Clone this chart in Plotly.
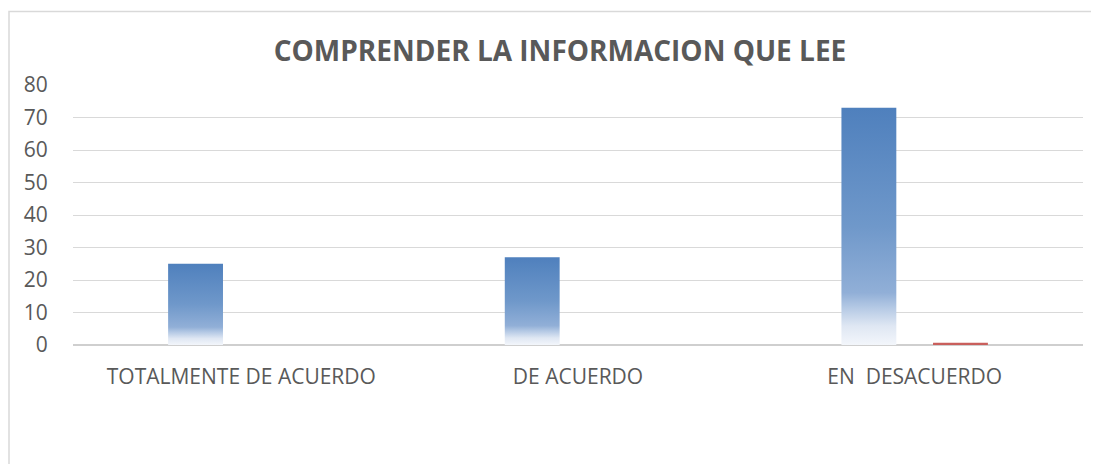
import plotly.graph_objects as go

# ---- data ----
categories = ["TOTALMENTE DE ACUERDO", "DE ACUERDO", "EN  DESACUERDO"]
serie_1 = [25, 27, 73]
serie_2 = [0, 0, 0.7]
y_ticks = [0, 10, 20, 30, 40, 50, 60, 70, 80]
title_text = "COMPRENDER LA INFORMACION QUE LEE"

# ---- style ----
BAR_W = 0.163
HALF_GAP = 0.0545
BLUE_SCALE = [
    [0.0, "#f3f6fb"],
    [0.08, "#dfe7f3"],
    [0.16, "#b3c8e4"],
    [0.22, "#91afd7"],
    [0.5, "#6f98ca"],
    [1.0, "#4f80bd"],
]
TEXT = "#595959"
GRID = "#d9d9d9"
OFF = 8  # page body margin of the browser

W, H = 1099 - OFF, 464 - OFF
L, R, T, B = 73 - OFF, 16, 85 - OFF, 119
PW, PH = W - L - R, H - T - B

fig = go.Figure()

for i, v in enumerate(serie_1):
    x0 = i - HALF_GAP - BAR_W
    x1 = i - HALF_GAP
    fig.add_trace(go.Scatter(
        x=[x0, x0, x1, x1, x0],
        y=[0, v, v, 0, 0],
        mode="lines",
        line=dict(width=0, color="rgba(0,0,0,0)"),
        fill="toself",
        fillgradient=dict(type="vertical", start=0, stop=v, colorscale=BLUE_SCALE),
        showlegend=False,
        hoverinfo="skip",
    ))

fig.add_trace(go.Bar(
    x=list(range(len(categories))),
    y=serie_2,
    width=BAR_W,
    offset=HALF_GAP,
    marker=dict(color="#c95f5c", line=dict(width=0)),
    showlegend=False,
))

fig.update_layout(
    width=W,
    height=H,
    margin=dict(l=L, r=R, t=T, b=B),
    paper_bgcolor="white",
    plot_bgcolor="white",
    font=dict(family="Open Sans", color=TEXT, size=21),
    title=dict(
        text="<b>" + title_text + "</b>",
        font=dict(family="Open Sans", size=28, color=TEXT),
        xref="container", x=(560 - OFF) / W, xanchor="center",
        yref="container", y=1 - (51.5 - OFF) / H, yanchor="middle",
    ),
    xaxis=dict(
        range=[-0.5, len(categories) - 0.5],
        tickmode="array",
        tickvals=list(range(len(categories))),
        ticktext=categories,
        showgrid=False,
        zeroline=False,
        showline=False,
        ticks="outside",
        ticklen=13,
        tickcolor="rgba(0,0,0,0)",
        tickfont=dict(size=21, color=TEXT),
    ),
    yaxis=dict(
        range=[0, 80],
        tickmode="array",
        tickvals=y_ticks,
        showgrid=True,
        gridcolor=GRID,
        gridwidth=1,
        zeroline=True,
        zerolinecolor="#cfcfcf",
        zerolinewidth=1.5,
        showline=False,
        ticks="outside",
        ticklen=20,
        tickcolor="rgba(0,0,0,0)",
        tickfont=dict(size=21, color=TEXT),
    ),
    shapes=[dict(
        type="rect", xref="paper", yref="paper",
        x0=(9 - 73) / PW, x1=1.2, y0=-0.6, y1=1 + (85 - 11.5) / PH,
        line=dict(color="#d9d9d9", width=1.5),
        fillcolor="rgba(0,0,0,0)", layer="below",
    )],
)

fig.write_html("out.html")
